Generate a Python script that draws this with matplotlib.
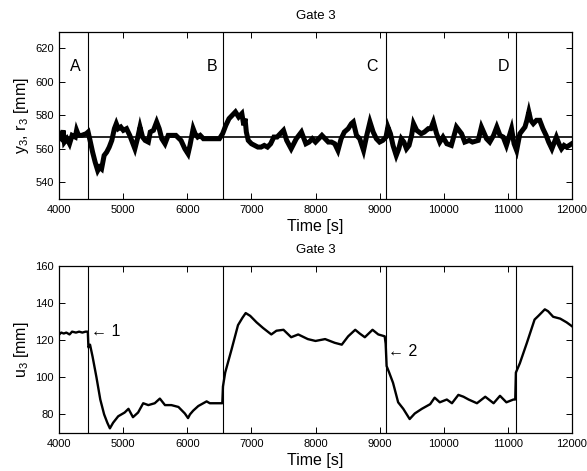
import matplotlib
matplotlib.use('Agg')
import matplotlib.pyplot as plt

plt.rcParams['font.family'] = ['Liberation Sans', 'DejaVu Sans']
plt.rcParams['mathtext.fontset'] = 'custom'
plt.rcParams['mathtext.rm'] = 'Liberation Sans'
plt.rcParams['mathtext.it'] = 'Liberation Sans:italic'
plt.rcParams['mathtext.default'] = 'regular'

# ---- data ----
t_y = [4000, 4030, 4060, 4080, 4120, 4160, 4200, 4250, 4270, 4300, 4350, 4420, 4450,
       4480, 4520, 4560, 4600, 4630, 4660, 4700, 4740, 4780, 4820, 4860, 4890, 4920,
       4960, 5000, 5050, 5100, 5150, 5180, 5220, 5260, 5300, 5340, 5390, 5420, 5470,
       5520, 5560, 5600, 5650, 5700, 5760, 5820, 5900, 5960, 6010, 6040, 6090, 6120,
       6160, 6200, 6250, 6300, 6400, 6500, 6550, 6600, 6650, 6700, 6750, 6800, 6850,
       6880, 6900, 6920, 6950, 7000, 7050, 7100, 7150, 7200, 7250, 7300, 7350, 7400,
       7450, 7500, 7550, 7620, 7700, 7780, 7850, 7900, 7950, 8000, 8050, 8100, 8150,
       8200, 8250, 8300, 8350, 8400, 8450, 8510, 8560, 8590, 8640, 8690, 8750, 8800,
       8850, 8900, 8950, 9000, 9050, 9100, 9130, 9170, 9210, 9260, 9300, 9340, 9380,
       9420, 9460, 9500, 9530, 9580, 9650, 9700, 9760, 9800, 9840, 9890, 9940, 9990,
       10050, 10120, 10200, 10280, 10330, 10400, 10450, 10540, 10590, 10670, 10720,
       10780, 10830, 10880, 10930, 10980, 11060, 11100, 11140, 11190, 11230, 11270,
       11300, 11330, 11360, 11400, 11450, 11500, 11550, 11600, 11640, 11690, 11760,
       11800, 11840, 11880, 11920, 11960, 12000]
y3 = [567, 566, 571, 564, 566, 563, 568, 567, 571, 568, 568, 569, 570,
      565, 558, 552, 547, 549, 548, 556, 558, 561, 565, 572, 575, 572,
      573, 571, 572, 568, 563, 560, 566, 573, 567, 565, 564, 570, 571,
      576, 572, 566, 563, 568, 568, 568, 565, 560, 557, 562, 572, 569,
      567, 568, 566, 566, 566, 566, 569, 574, 578, 580, 582, 579, 581,
      574, 578, 570, 565, 563, 562, 561, 561, 562, 561, 563, 567, 567,
      569, 571, 565, 560, 566, 570, 563, 564, 566, 564, 566, 568, 566,
      564, 564, 563, 559, 566, 570, 572, 575, 576, 568, 566, 559, 568,
      576, 570, 566, 564, 565, 567, 573, 569, 562, 556, 560, 566, 564,
      560, 562, 568, 575, 571, 569, 570, 572, 572, 576, 569, 564, 567,
      563, 562, 573, 569, 564, 565, 564, 565, 573, 566, 564,
      568, 573, 568, 567, 562, 572, 563, 559, 569, 571, 573,
      577, 582, 577, 575, 577, 577, 572, 568, 564, 560, 567,
      563, 560, 562, 561, 562, 563]
r3 = [567, 567]
t_r = [4000, 12000]

t_u = [4000, 4030, 4070, 4110, 4160, 4200, 4260, 4310, 4360, 4410, 4445, 4455,
       4480, 4520, 4580, 4640, 4700, 4750, 4790, 4840, 4920, 5020, 5080, 5150,
       5230, 5310, 5390, 5490, 5570, 5650, 5750, 5860, 5960, 6010, 6040, 6090,
       6170, 6300, 6350, 6500, 6545, 6555, 6590, 6690, 6790, 6860, 6910, 6980,
       7080, 7180, 7310, 7390, 7500, 7620, 7730, 7880, 8000, 8150, 8300, 8410,
       8510, 8620, 8690, 8770, 8890, 8980, 9080, 9095, 9110, 9150, 9210, 9290,
       9370, 9470, 9550, 9660, 9790, 9860, 9940, 10050, 10130, 10230, 10310,
       10390, 10520, 10650, 10780, 10880, 10980, 11090, 11118, 11128, 11190,
       11300, 11420, 11480, 11580, 11630, 11710, 11820, 11920, 12000]
u3 = [123, 124, 123.5, 124, 123, 124.5, 124, 124.5, 124, 124.5, 124.5, 116,
      117.5, 111, 100, 88, 80, 75.5, 72.5, 75.5, 79, 81, 83, 78.5,
      81, 86, 85, 86, 88.5, 85, 85, 84, 80.5, 78, 80, 82,
      84.5, 87, 86, 86, 86, 95, 102.5, 115, 128, 132, 134.5, 133,
      129.5, 126.5, 123, 125, 125.5, 121.5, 123, 120.5, 119.5, 120.5, 118.5, 117.5,
      122, 125.5, 123.5, 121.5, 125.5, 123, 122, 118, 106, 102.5, 97, 86.5,
      83, 77.5, 80.5, 83, 85.5, 89, 86.5, 88, 86, 90.5, 89.5,
      88, 86, 89.5, 86, 90, 86.5, 88, 88, 102.5, 107.5,
      118.5, 131, 133, 136.5, 135.5, 132.5, 131.5, 129.5, 127.5]

vlines = [4450, 6550, 9100, 11130]
phase_labels = ['A', 'B', 'C', 'D']
phase_x = [4250, 6380, 8880, 10930]
phase_y = 609
step_labels = ['\u2190 1', '\u2190 2']
step_x = [4500, 9130]
step_y = [124.5, 114]

xticks = [4000, 5000, 6000, 7000, 8000, 9000, 10000, 11000, 12000]

fig = plt.figure(figsize=(5.87, 4.71), dpi=100)
ax1 = fig.add_axes([0.101, 0.5775, 0.873, 0.3555])
ax2 = fig.add_axes([0.101, 0.0807, 0.873, 0.3553])

for ax in (ax1, ax2):
    for v in vlines:
        ax.axvline(v, color='black', lw=0.8)
    ax.set_xlim(4000, 12000)
    ax.set_xticks(xticks)
    ax.tick_params(direction='in', top=True, right=True, length=4, width=0.7,
                   labelsize=8, pad=4)
    for s in ax.spines.values():
        s.set_linewidth(0.9)
    ax.set_xlabel('Time [s]', fontsize=11.5, labelpad=3)
    ax.set_title('Gate 3', fontsize=9.5, pad=9)

ax1.plot(t_y, y3, color='black', lw=3.6, solid_joinstyle='miter')
ax1.plot(t_r, r3, color='black', lw=1.2)
ax1.set_ylim(530, 630)
ax1.set_yticks([540, 560, 580, 600, 620])
ax1.set_ylabel('y$_3$, r$_3$ [mm]', fontsize=11.5, labelpad=3)
for lab, x in zip(phase_labels, phase_x):
    ax1.text(x, phase_y, lab, fontsize=11.5, ha='center', va='center')

ax2.plot(t_u, u3, color='black', lw=1.7)
ax2.set_ylim(70, 160)
ax2.set_yticks([80, 100, 120, 140, 160])
ax2.set_ylabel('u$_3$ [mm]', fontsize=11.5, labelpad=3)
for lab, x, y in zip(step_labels, step_x, step_y):
    ax2.text(x, y, lab, fontsize=11.5, ha='left', va='center',
             family=['DejaVu Sans'] if False else ['Liberation Sans', 'DejaVu Sans'])

fig.savefig('out.png', dpi=100)
